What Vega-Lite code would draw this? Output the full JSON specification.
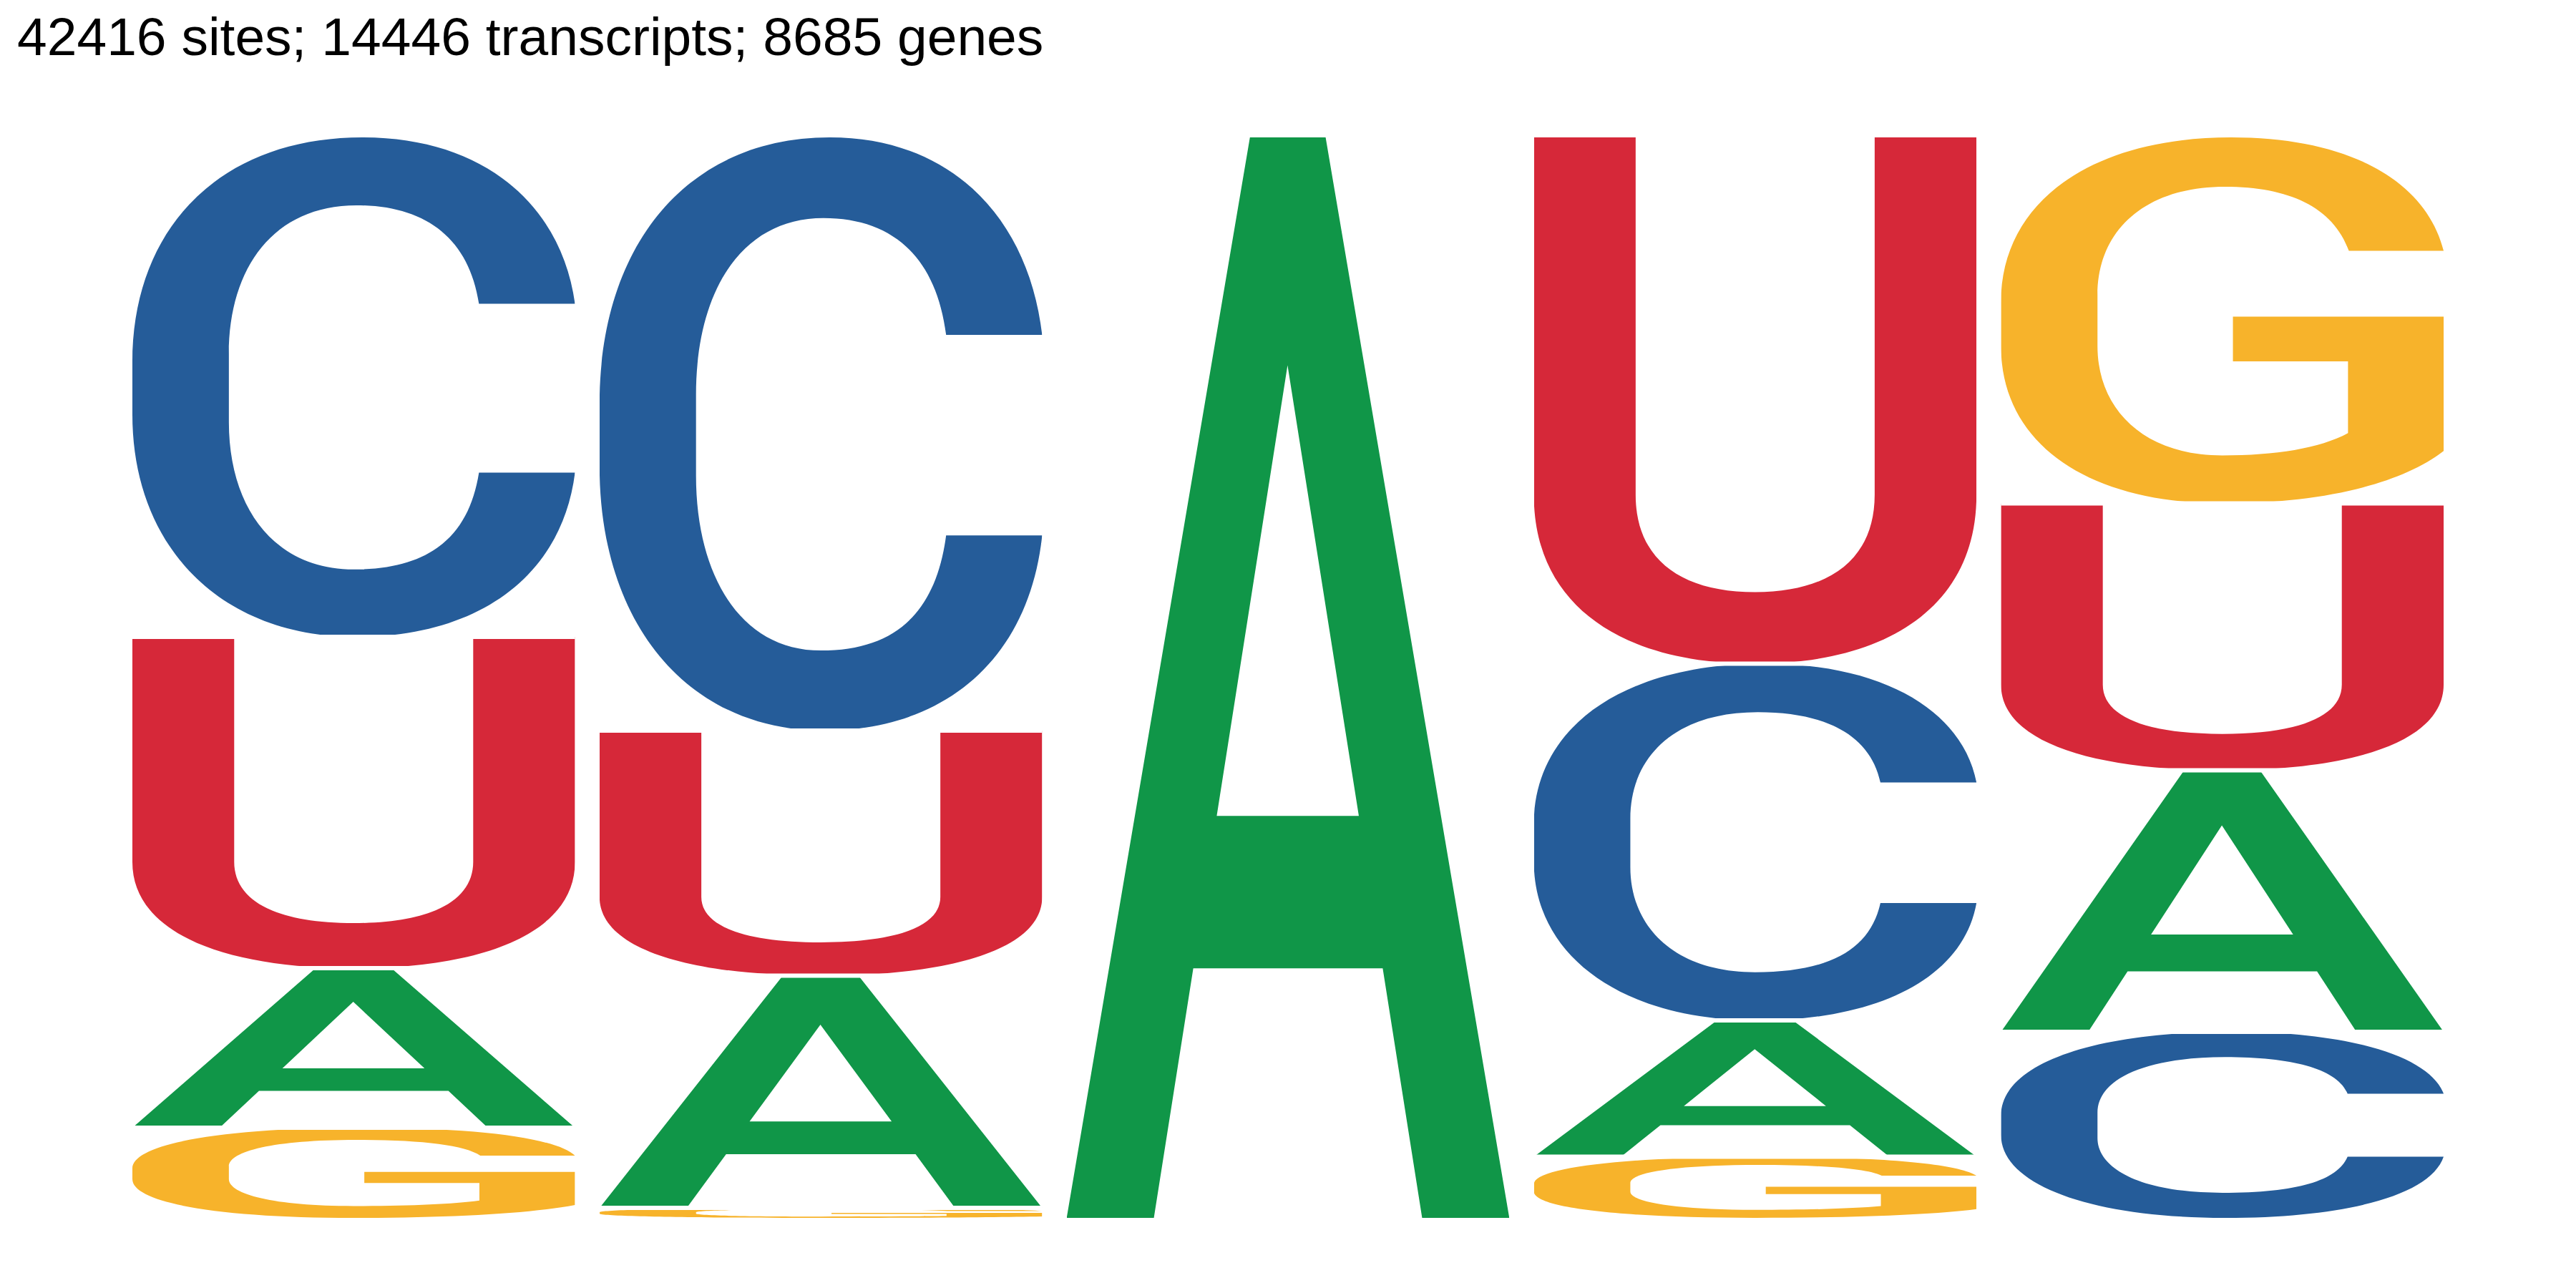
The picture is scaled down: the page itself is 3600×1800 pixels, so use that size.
{
  "$schema": "https://vega.github.io/schema/vega-lite/v6.json",
  "width": 3230,
  "height": 1510,
  "autosize": {"type": "none"},
  "padding": {"left": 185, "top": 192, "right": 185, "bottom": 98},
  "background": "white",
  "config": {"view": {"stroke": null}},
  "title": {
    "text": "42416 sites; 14446 transcripts; 8685 genes",
    "anchor": "start",
    "frame": "group",
    "dx": -161,
    "offset": 40,
    "baseline": "alphabetic",
    "font": "Liberation Sans",
    "fontSize": 75,
    "fontWeight": "normal",
    "color": "black"
  },
  "data": {
    "values": [
      {"pos": 1, "letter": "C", "prob": 0.4623},
      {"pos": 1, "letter": "U", "prob": 0.3066},
      {"pos": 1, "letter": "A", "prob": 0.1477},
      {"pos": 1, "letter": "G", "prob": 0.0834},
      {"pos": 2, "letter": "C", "prob": 0.549},
      {"pos": 2, "letter": "U", "prob": 0.2268},
      {"pos": 2, "letter": "A", "prob": 0.215},
      {"pos": 2, "letter": "G", "prob": 0.0092},
      {"pos": 3, "letter": "A", "prob": 1.0},
      {"pos": 4, "letter": "U", "prob": 0.4871},
      {"pos": 4, "letter": "C", "prob": 0.3301},
      {"pos": 4, "letter": "A", "prob": 0.1262},
      {"pos": 4, "letter": "G", "prob": 0.0566},
      {"pos": 5, "letter": "G", "prob": 0.3387},
      {"pos": 5, "letter": "U", "prob": 0.247},
      {"pos": 5, "letter": "A", "prob": 0.2421},
      {"pos": 5, "letter": "C", "prob": 0.1722}
    ]
  },
  "transform": [
    {
      "stack": "prob",
      "groupby": ["pos"],
      "sort": [{"field": "prob", "order": "ascending"}],
      "as": ["p0", "p1"]
    }
  ],
  "encoding": {
    "x": {
      "field": "pos",
      "type": "ordinal",
      "scale": {"paddingInner": 0.0525, "paddingOuter": 0},
      "axis": null
    },
    "y": {
      "field": "p0",
      "type": "quantitative",
      "scale": {"domain": [0, 1]},
      "axis": null
    },
    "y2": {"field": "p1"}
  },
  "layer": [
    {
      "mark": {"type": "image", "aspect": false},
      "encoding": {
        "url": {
          "condition": [
            {
              "test": "datum.letter === 'A'",
              "value": "data:image/svg+xml;charset=utf-8,%3Csvg xmlns='http://www.w3.org/2000/svg' width='100' height='100' viewBox='0 0 100 100' preserveAspectRatio='none'%3E%3Cpath fill='%23109648' fill-rule='evenodd' d='M0,100 L41.4,0 L58.5,0 L100,100 L80.3,100 L71.4,76.9 L28.6,76.9 L19.7,100 Z M49.9,21.1 L66,62.8 L33.9,62.8 Z'/%3E%3C/svg%3E"
            },
            {
              "test": "datum.letter === 'C'",
              "value": "data:image/svg+xml;charset=utf-8,%3Csvg xmlns='http://www.w3.org/2000/svg' width='100' height='100' viewBox='0 0 100 100' preserveAspectRatio='none'%3E%3Cpath fill='%23255C99' d='M100,33.3 C97,14 80,0 52,0 C20,0 0,18 0,45 L0,55.4 C0,82 20,100 50.6,100 C78,100 97,88 100,67.1 L78.3,67.1 C76,80 67,86.5 50,86.5 C32,86.5 21.8,74 21.8,57 L21.8,43.4 C21.8,26 32,13.6 50.6,13.6 C66,13.6 76,20 78.3,33.3 Z'/%3E%3C/svg%3E"
            },
            {
              "test": "datum.letter === 'G'",
              "value": "data:image/svg+xml;charset=utf-8,%3Csvg xmlns='http://www.w3.org/2000/svg' width='100' height='100' viewBox='0 0 100 100' preserveAspectRatio='none'%3E%3Cpath fill='%23F7B32B' d='M100,31 C96,12 79,0 52,0 C20,0 0,18 0,45 L0,57 C0,84 20,100 50,100 C72,100 90,95 100,85.7 L100,49 L52.4,49 L52.4,61.2 L78.4,61.2 L78.4,80.8 C72,85 62,86.9 50,86.9 C32,86.9 21.8,74 21.8,57 L21.8,43 C21.8,26 32,13.5 50.6,13.5 C65,13.5 75,19 78.6,31 Z'/%3E%3C/svg%3E"
            }
          ],
          "value": "data:image/svg+xml;charset=utf-8,%3Csvg xmlns='http://www.w3.org/2000/svg' width='100' height='100' viewBox='0 0 100 100' preserveAspectRatio='none'%3E%3Cpath fill='%23D62839' d='M0,0 L23,0 L23,67.9 C23,80 33,86.4 50,86.4 C67,86.4 77,80 77,67.9 L77,0 L100,0 L100,67.9 C100,89 80,100 50,100 C20,100 0,89 0,67.9 Z'/%3E%3C/svg%3E"
        }
      }
    },
    {
      "transform": [{"filter": "datum.p1 < 0.999"}],
      "mark": {"type": "bar", "fill": "transparent", "stroke": "white", "strokeWidth": 6},
      "encoding": {
        "y": {"field": "p1", "type": "quantitative"},
        "y2": {"field": "p1"}
      }
    }
  ]
}
